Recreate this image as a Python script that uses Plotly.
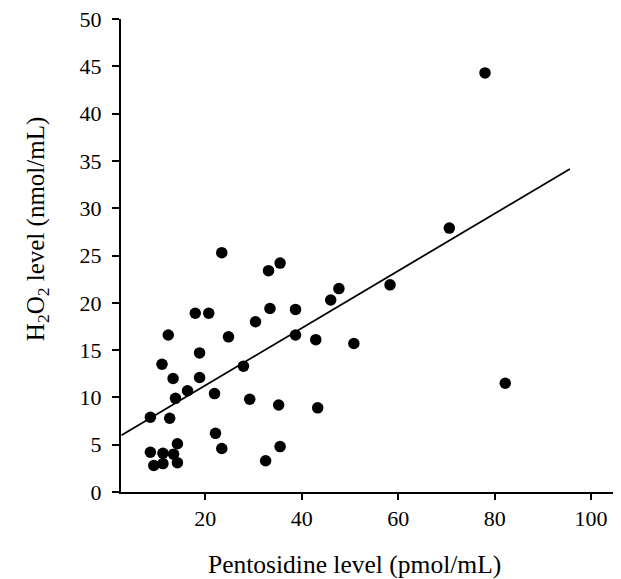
import plotly.graph_objects as go

# Data
pentosidine = [23.4, 33.1, 35.5, 17.9, 20.7, 33.4, 38.7, 46.0, 47.7, 58.3,
               30.4, 12.3, 24.8, 38.7, 42.9, 50.8, 18.8, 11.0, 27.9, 13.3,
               18.8, 16.3, 21.9, 13.8, 29.2, 35.2, 43.3, 8.6, 12.6, 82.2,
               22.1, 23.4, 35.5, 14.2, 8.6, 11.2, 13.4, 9.3, 11.2, 14.2,
               32.5, 78.0, 70.6]
h2o2 = [25.3, 23.4, 24.2, 18.9, 18.9, 19.4, 19.3, 20.3, 21.5, 21.9,
        18.0, 16.6, 16.4, 16.6, 16.1, 15.7, 14.7, 13.5, 13.3, 12.0,
        12.1, 10.7, 10.4, 9.9, 9.8, 9.2, 8.9, 7.9, 7.8, 11.5,
        6.2, 4.6, 4.8, 5.1, 4.2, 4.1, 4.0, 2.8, 3.0, 3.1,
        3.3, 44.3, 27.9]

fit_slope = 0.3026
fit_intercept = 5.22
fit_x = [2.6, 95.6]
fit_y = [fit_intercept + fit_slope * v for v in fit_x]

x_ticks = [20, 40, 60, 80, 100]
y_ticks = [0, 5, 10, 15, 20, 25, 30, 35, 40, 45, 50]

FONT = "Liberation Serif"

fig = go.Figure()
fig.add_trace(go.Scatter(x=fit_x, y=fit_y, mode="lines",
                         line=dict(color="black", width=1.8),
                         showlegend=False, hoverinfo="skip"))
fig.add_trace(go.Scatter(x=pentosidine, y=h2o2, mode="markers",
                         marker=dict(color="black", size=11.5),
                         showlegend=False))

# page body has an 8px default margin; compensate
OFF = 8
W, H = 621 - OFF, 579 - OFF
L, R, T, B = 121 - OFF, 1, 18.5 - OFF, 86.7
pw = W - L - R
ph = H - T - B
plot_bottom = H - B


def px_x(p):
    return (p - OFF - L) / pw


def px_y(p):
    return (plot_bottom - (p - OFF)) / ph


axis_common = dict(showgrid=False, zeroline=False, showline=True,
                   linecolor="black", linewidth=2, ticks="outside",
                   tickwidth=2, tickcolor="black", ticklabeloverflow="allow",
                   tickfont=dict(family=FONT, size=22, color="black"))

fig.update_layout(
    width=W, height=H,
    margin=dict(l=L, r=R, t=T, b=B, autoexpand=False),
    paper_bgcolor="white", plot_bgcolor="white",
    xaxis=dict(range=[2.5, 106], tickvals=x_ticks, ticklen=6,
               ticklabelstandoff=0, **axis_common),
    yaxis=dict(range=[0, 50], tickvals=y_ticks, ticklen=7,
               ticklabelstandoff=6, **axis_common),
    annotations=[
        dict(text="Pentosidine level (pmol/mL)", xref="paper", yref="paper",
             x=px_x(354), y=px_y(565), xanchor="center", yanchor="middle",
             showarrow=False, font=dict(family=FONT, size=25.5, color="black")),
        dict(text="H<sub>2</sub>O<sub>2</sub> level (nmol/mL)", xref="paper", yref="paper",
             x=px_x(37), y=px_y(229), xanchor="center", yanchor="middle",
             textangle=-90, showarrow=False,
             font=dict(family=FONT, size=25, color="black")),
    ],
)

fig.write_html("out.html")
